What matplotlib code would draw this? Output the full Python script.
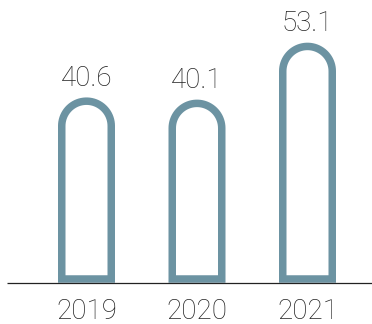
import matplotlib
matplotlib.use("Agg")
import matplotlib.pyplot as plt
from matplotlib.path import Path
from matplotlib.patches import PathPatch
from matplotlib.transforms import offset_copy
import numpy as np

years = ["2019", "2020", "2021"]
values = [40.6, 40.1, 53.1]
value_labels = ["40.6", "40.1", "53.1"]

bar_color = "#6c93a2"
text_color = "#222222"

plt.rcParams['font.family'] = ['Roboto', 'DejaVu Sans']

W, H, DPI = 372, 324, 100
fig = plt.figure(figsize=(W / DPI, H / DPI), dpi=DPI)
ax = fig.add_axes([0, 0, 1, 1])
ax.set_axis_off()

# pixel layout: spacing between bars and pixels per data unit
px_x = 110.5
px_y = 4.38
x0 = -86.5 / px_x
y0 = -45 / px_y
ax.set_xlim(x0, x0 + W / px_x)
ax.set_ylim(y0, y0 + H / px_y)

stroke_px = 7.5
bar_w = 49.5 / px_x          # centerline width in x units
r_y = (49.5 / 2) / px_y      # arc radius in y units


def rounded_bar(xc, h):
    """Outline path of a bar with a semicircular top"""
    rx = bar_w / 2
    t = np.linspace(np.pi, 0, 40)
    arc = np.column_stack([xc + rx * np.cos(t), h - r_y + r_y * np.sin(t)])
    verts = [(xc - rx, 0), (xc - rx, h - r_y)] + arc.tolist() + [(xc + rx, h - r_y), (xc + rx, 0), (xc - rx, 0)]
    codes = [Path.MOVETO] + [Path.LINETO] * (len(verts) - 2) + [Path.CLOSEPOLY]
    return Path(verts, codes)


for i, (yr, v, lab) in enumerate(zip(years, values, value_labels)):
    patch = PathPatch(rounded_bar(i, v), facecolor="none", edgecolor=bar_color,
                      linewidth=stroke_px * 72 / DPI, joinstyle="miter", zorder=2)
    ax.add_patch(patch)
    ax.annotate(lab, (i, v), xytext=(0, 11), textcoords="offset points",
                ha="center", va="baseline", fontsize=20, fontweight="light",
                color=text_color)
    ax.annotate(yr, (i, 0), xytext=(0, -29), textcoords="offset points",
                ha="center", va="baseline", fontsize=20, fontweight="light",
                color=text_color)

# baseline just under the bars' bottom stroke
base_tr = offset_copy(ax.transData, fig=fig, y=-3.5, units="dots")
ax.plot([x0 + 7 / px_x, x0 + W / px_x], [0, 0], color=text_color,
        linewidth=0.9, transform=base_tr, zorder=3, solid_capstyle="butt")

fig.savefig("out.png", dpi=DPI)
